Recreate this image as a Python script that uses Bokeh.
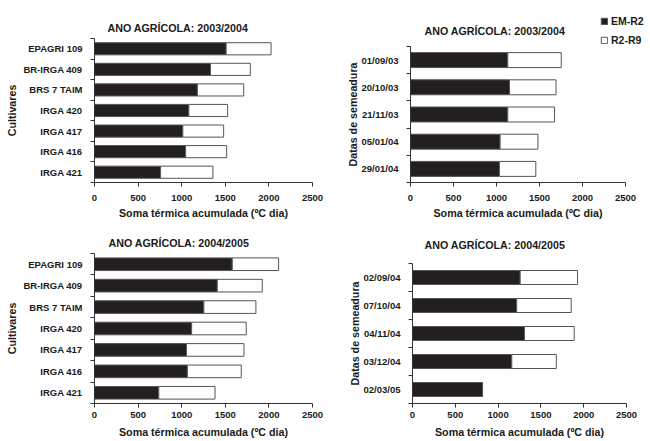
from bokeh.plotting import figure
from bokeh.layouts import column, row
from bokeh.models import (FixedTicker, Legend, LegendItem, Range1d,
                          ColumnDataSource, Label)
from bokeh.embed import file_html
from bokeh.resources import INLINE

# ---------------- data ----------------
cultivars = ["EPAGRI 109", "BR-IRGA 409", "BRS 7 TAIM", "IRGA 420",
             "IRGA 417", "IRGA 416", "IRGA 421"]
em_r2_0304_cult = [1510, 1330, 1180, 1082, 1013, 1045, 758]
r2_r9_0304_cult = [515, 457, 531, 445, 468, 471, 600]

dates_0304 = ["01/09/03", "20/10/03", "21/11/03", "05/01/04", "29/01/04"]
em_r2_0304_dates = [1131, 1151, 1131, 1042, 1034]
r2_r9_0304_dates = [622, 541, 544, 440, 423]

em_r2_0405_cult = [1580, 1408, 1254, 1114, 1055, 1065, 737]
r2_r9_0405_cult = [531, 516, 597, 626, 659, 618, 645]

dates_0405 = ["02/09/04", "07/10/04", "04/11/04", "03/12/04", "02/03/05"]
em_r2_0405_dates = [1258, 1217, 1308, 1160, 818]
r2_r9_0405_dates = [670, 637, 581, 520, 0]

x_ticks = [0, 500, 1000, 1500, 2000, 2500]
titles = ["ANO AGRÍCOLA: 2003/2004", "ANO AGRÍCOLA: 2004/2005"]
x_label = "Soma térmica acumulada (ºC dia)"
y_labels = ["Cultivares", "Datas de semeadura"]
series_names = ["EM-R2", "R2-R9"]

FONT = "Liberation Sans"
TXT = "#1a1a1a"
BLACK = "#231f20"
EDGE = "#555555"
W = 325


def make_head(height, title, tx, ty):
    h = figure(width=W, height=height, output_backend="svg",
               toolbar_location=None, x_axis_type=None, y_axis_type=None,
               x_range=Range1d(0, 1), y_range=Range1d(0, 1),
               min_border=0, frame_align=False)
    h.outline_line_color = None
    h.xgrid.visible = False
    h.ygrid.visible = False
    h.add_layout(Label(x=tx, y=ty, x_units="screen", y_units="screen",
                       text=title, text_font=FONT, text_font_size="10.7px",
                       text_font_style="bold", text_color=TXT,
                       text_align="left", text_baseline="alphabetic"))
    return h


def make_panel(cats, em, r2, ylabel, height, borders, bar_h,
               ylab_standoff, xl_standoff, xal_standoff):
    n = len(cats)
    ypos = [n - i for i in range(n)]
    tot = [a + b for a, b in zip(em, r2)]
    src = ColumnDataSource(dict(y=ypos, zero=[0] * n, em=em, tot=tot))
    left, right, bottom = borders
    p = figure(width=W, height=height, output_backend="svg",
               toolbar_location=None, x_range=Range1d(0, 2500),
               y_range=Range1d(0.5, n + 0.5), frame_align=False,
               min_border_left=left, min_border_right=right,
               min_border_top=0, min_border_bottom=bottom)
    p.outline_line_color = None
    p.xgrid.visible = False
    p.ygrid.visible = False

    p.hbar(y="y", left="zero", right="em", height=bar_h, source=src,
           fill_color=BLACK, line_color=EDGE, line_width=1)
    p.hbar(y="y", left="em", right="tot", height=bar_h, source=src,
           fill_color="white", line_color=EDGE, line_width=1)

    xa = p.xaxis[0]
    xa.ticker = FixedTicker(ticks=x_ticks, minor_ticks=[])
    xa.axis_label = x_label
    ya = p.yaxis[0]
    ya.ticker = FixedTicker(ticks=ypos,
                            minor_ticks=[k + 0.5 for k in range(n + 1)])
    ya.major_label_overrides = {y: c for y, c in zip(ypos, cats)}
    ya.axis_label = ylabel
    for ax in (xa, ya):
        ax.axis_line_color = "#333333"
        ax.axis_line_width = 1
        ax.major_tick_line_color = "#333333"
        ax.minor_tick_line_color = "#333333"
        ax.major_label_text_font = FONT
        ax.major_label_text_font_size = "9.5px"
        ax.major_label_text_font_style = "bold"
        ax.major_label_text_color = TXT
        ax.axis_label_text_font = FONT
        ax.axis_label_text_font_size = "10.7px"
        ax.axis_label_text_font_style = "bold"
        ax.axis_label_text_color = TXT
    xa.major_tick_out = 4
    xa.major_tick_in = 0
    xa.major_label_standoff = xl_standoff
    xa.axis_label_standoff = xal_standoff
    ya.major_tick_out = 0
    ya.major_tick_in = 0
    ya.minor_tick_out = 4
    ya.minor_tick_in = 0
    ya.major_label_standoff = 8
    ya.axis_label_standoff = ylab_standoff
    return p


# top-left
h1 = make_head(38, titles[0], 107, 10.4)
p1 = make_panel(cultivars, em_r2_0304_cult, r2_r9_0304_cult, y_labels[0],
                183, (94, 13, 39), 0.59, 2, 8, 3)
# top-right (with legend; legend proxies lie outside the visible range)
h2 = make_head(46, titles[0], 99, 15.5)
lb = h2.hbar(y=[9], left=[8], right=[9], height=0.5,
             fill_color=BLACK, line_color=EDGE, line_width=1)
lw = h2.hbar(y=[9], left=[8], right=[9], height=0.5,
             fill_color="white", line_color=EDGE, line_width=1)
legend = Legend(items=[LegendItem(label=series_names[0], renderers=[lb]),
                       LegendItem(label=series_names[1], renderers=[lw])],
                location=(275, 0))
legend.glyph_width = 8
legend.glyph_height = 8
legend.label_height = 8
legend.label_width = 20
legend.spacing = 7
legend.padding = 0
legend.margin = 0
legend.label_standoff = 3
legend.border_line_color = None
legend.background_fill_alpha = 0
legend.label_text_font = FONT
legend.label_text_font_size = "10.5px"
legend.label_text_font_style = "bold"
legend.label_text_color = TXT
h2.add_layout(legend, "center")
p2 = make_panel(dates_0304, em_r2_0304_dates, r2_r9_0304_dates, y_labels[1],
                175, (85, 25, 39), 0.55, 0, 8, 3)
# bottom-left
h3 = make_head(32, titles[1], 108, 10.4)
p3 = make_panel(cultivars, em_r2_0405_cult, r2_r9_0405_cult, y_labels[0],
                188, (94, 13, 38), 0.59, 2, 4, 5)
# bottom-right
h4 = make_head(42, titles[1], 99, 18.4)
p4 = make_panel(dates_0405, em_r2_0405_dates, r2_r9_0405_dates, y_labels[1],
                178, (87, 24, 38), 0.5, 0, 4, 5)

layout = column(row(column(h1, p1), column(h2, p2)),
                row(column(h3, p3), column(h4, p4)))
open("out.html", "w").write(file_html(layout, INLINE))
